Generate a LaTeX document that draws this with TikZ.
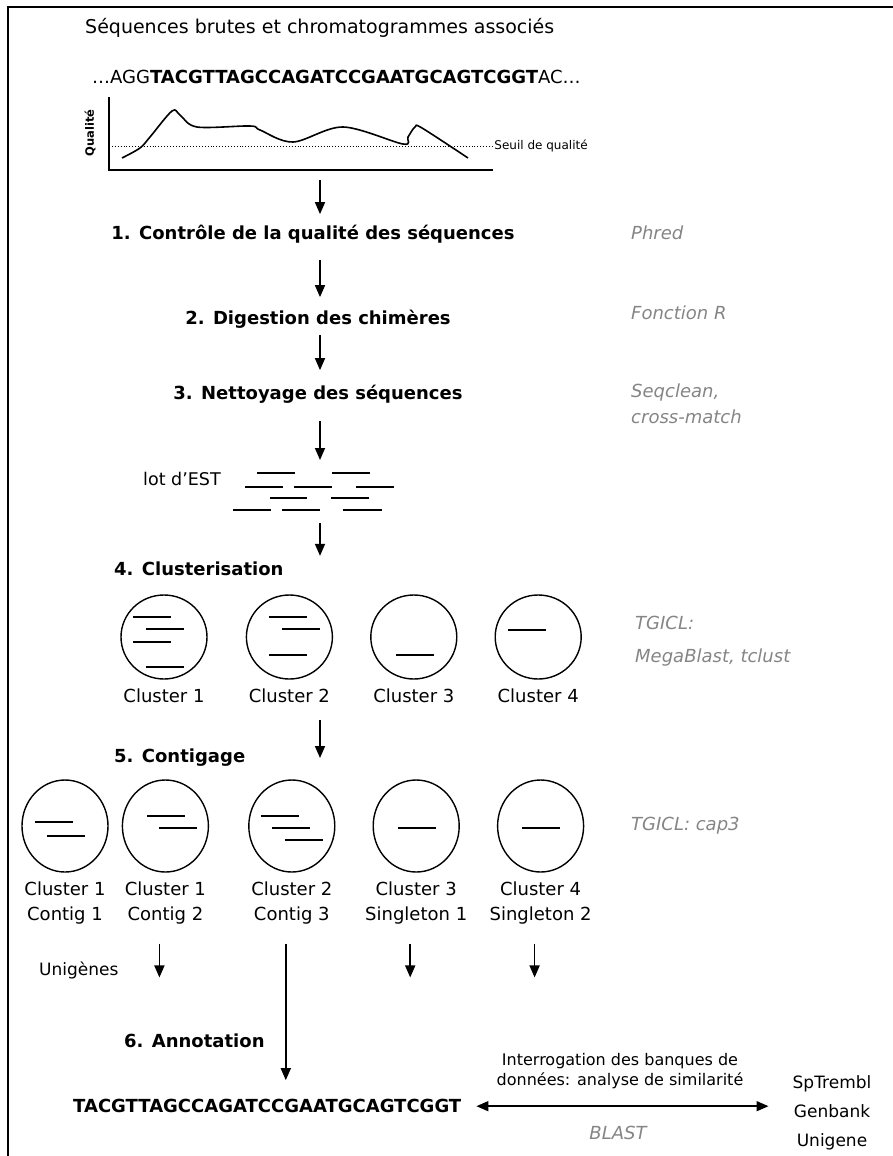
\documentclass[tikz,border=0pt]{standalone}
\usepackage{fontspec}
\setmainfont{DejaVu Sans}
\usetikzlibrary{arrows.meta,positioning,calc,shapes.geometric}
\definecolor{ink}{HTML}{000000}
\definecolor{toolgray}{HTML}{858585}
\tikzset{
  title/.style={font=\fontsize{19}{22}\selectfont, inner sep=0pt, anchor=mid west},
  steptxt/.style={font=\bfseries\fontsize{18}{22}\selectfont, inner sep=0pt, anchor=mid},
  tooltxt/.style={font=\itshape\fontsize{18}{26}\selectfont, text=toolgray, inner sep=0pt, align=left},
  lbl/.style={font=\fontsize{18}{25}\selectfont, inner sep=0pt, align=center},
  seqtxt/.style={font=\fontsize{18}{22}\selectfont, inner sep=0pt, anchor=mid west},
  clu/.style={draw=ink, ellipse, line width=1.4pt, inner sep=0pt, minimum width=86pt, minimum height=84pt},
  contig/.style={clu, minimum height=92pt},
  read/.style={line width=1.5pt, draw=ink},
  arr/.style={-{Triangle[length=12pt,width=10pt]}, line width=1.6pt, draw=ink},
  dblarr/.style={{Triangle[length=12pt,width=10pt]}-{Triangle[length=12pt,width=10pt]}, line width=1.6pt, draw=ink}
}

\begin{document}
\begin{tikzpicture}[x=1pt, y=-1pt]
\useasboundingbox (0,0) rectangle (892,1156);
% cadre
\draw[line width=2pt] (8,1160) -- (8,7) -- (896,7);

% sequences brutes
\node[title] (ttl) at (85,31) {Séquences brutes et chromatogrammes associés};
\node[seqtxt] (raw) at (92,81) {…AGG\textbf{TACGTTAGCCAGATCCGAATGCAGTCGGT}AC…};

% chromatogramme
\coordinate (orig) at (109,170);
\draw[line width=2pt] (109,97) -- (orig) -- (493,170);
\draw[line width=0.9pt, dotted] (109,146) -- (493,146) node[right, inner sep=1pt, font=\fontsize{12}{14}\selectfont] (seuil) {Seuil de qualité};
\draw[line width=1.6pt] plot[smooth, tension=0.55] coordinates {(122,158) (140,148) (150,137) (172,111) (180,115) (197,127) (250,126) (260,130) (293,142) (343,127) (403,144) (408,137) (415,127) (422,128) (468,158)};
\node[rotate=90, font=\bfseries\fontsize{11.5}{14}\selectfont, inner sep=0pt] (qual) at (90,133) {Qualité};

% etapes 1 a 3
\coordinate (spine) at (320,0);
\node[steptxt] (s1) at (313,237) {1. Contrôle de la qualité des séquences};
\node[tooltxt, anchor=mid west] (t1) at (631,237) {Phred};
\node[steptxt] (s2) at (318,322) {2. Digestion des chimères};
\node[tooltxt, anchor=mid west] (t2) at (631,317) {Fonction R};
\node[steptxt] (s3) at (318,397) {3. Nettoyage des séquences};
\node[tooltxt, anchor=north west] (t3) at (631,384) {Seqclean,\\cross-match};
\draw[arr, shorten <=10pt, shorten >=11pt] (orig -| spine) -- (spine |- s1.north);
\draw[arr, shorten <=16pt, shorten >=13pt] (spine |- s1.south) -- (spine |- s2.north);
\draw[arr, shorten <=6pt, shorten >=15pt] (spine |- s2.south) -- (spine |- s3.north);

% lot d'EST
\node[lbl, anchor=mid west, font=\fontsize{17.5}{20}\selectfont] (lot) at (143,483) {lot d’EST};
\coordinate (estn) at (320,473);
\coordinate (ests) at (320,510);
\foreach \xa/\xb/\yy in {257/295/473, 332/370/473, 245/283/487, 294/332/487, 356/394/487, 270/307/498, 331/369/498, 233/271/510, 282/320/510, 343/382/510}
  \draw[read] (\xa,\yy) -- (\xb,\yy);
\draw[arr, shorten <=17pt, shorten >=13pt] (spine |- s3.south) -- (estn);

% 4. clusterisation
\node[steptxt, anchor=mid west] (s4) at (114,573) {4. Clusterisation};
\draw[arr, shorten <=13pt, shorten >=6pt] (ests) -- (spine |- s4.north);
\node[clu] (c1) at (164,637) {};
\node[clu, right=38pt of c1] (c2) {};
\node[clu, right=37pt of c2] (c3) {};
\node[clu, right=37pt of c3] (c4) {};
\foreach \n/\dx/\dy in {c1/-31/-20, c1/-18/-8, c1/-31/5, c1/-18/30, c2/-20/-20, c2/-7/-8, c2/-20/18, c3/-18/18, c4/-30/-7}
  \draw[read] ($(\n)+(\dx,\dy)$) -- ++(38,0);
\foreach \n/\i in {c1/1, c2/2, c3/3, c4/4}
  \node[lbl, below=9pt of \n] (l\n) {Cluster \i};
\node[tooltxt, anchor=north west, font=\itshape\fontsize{18}{33}\selectfont] (t4) at (635,616) {TGICL:\\MegaBlast, tclust};

% 5. contigage
\node[steptxt, anchor=mid west] (s5) at (114,760) {5. Contigage};
\draw[arr, shorten <=17pt, shorten >=2pt] (spine |- lc2.south) -- (spine |- s5.mid);
\node[contig] (k1) at (65,826) {};
\node[contig, right=13pt of k1] (k2) {};
\node[contig, right=39pt of k2] (k3) {};
\node[contig, right=37pt of k3] (k4) {};
\node[contig, right=37pt of k4] (k5) {};
\foreach \n/\dx/\dy in {k1/-30/-4, k1/-18/10, k2/-18/-10, k2/-6/2, k3/-31/-10, k3/-20/2, k3/-7/14, k4/-18/2, k5/-19/2}
  \draw[read] ($(\n)+(\dx,\dy)$) -- ++(38,0);
\node[lbl, below=9pt of k1] (lk1) {Cluster 1\\Contig 1};
\node[lbl, below=9pt of k2] (lk2) {Cluster 1\\Contig 2};
\node[lbl, below=9pt of k3] (lk3) {Cluster 2\\Contig 3};
\node[lbl, below=9pt of k4] (lk4) {Cluster 3\\Singleton 1};
\node[lbl, below=9pt of k5] (lk5) {Cluster 4\\Singleton 2};
\node[tooltxt, anchor=mid west] (t5) at (631,828) {TGICL: cap3};

% unigenes et 6. annotation
\node[lbl, anchor=mid west, font=\fontsize{17}{20}\selectfont] (uni) at (39,973) {Unigènes};
\node[steptxt, anchor=mid west] (s6) at (124,1045) {6. Annotation};
\node[seqtxt, font=\bfseries\fontsize{18}{22}\selectfont] (fin) at (73,1110) {TACGTTAGCCAGATCCGAATGCAGTCGGT};
\foreach \k/\d in {lk2/d1, lk3/d2, lk4/d3, lk5/d4}
  \coordinate (\d) at ($(\k.south)+(-6,0)$);
\draw[arr, shorten <=19pt, shorten >=2pt] (d1) -- (d1 |- uni.south);
\draw[arr, shorten <=19pt, shorten >=19pt] (d2) -- (d2 |- fin.north);
\draw[arr, shorten <=19pt, shorten >=2pt] (d3) -- (d3 |- uni.south);
\draw[arr, shorten <=19pt, shorten >=2pt] (d4) -- (d4 |- uni.south);

\node[lbl, font=\fontsize{17}{29}\selectfont] (dbs) at (832,1113) {SpTrembl\\Genbank\\Unigene};
\draw[dblarr, shorten <=15pt, shorten >=24pt] (fin.east) -- (fin.east -| dbs.west);
\node[lbl, font=\fontsize{16}{20}\selectfont] (inter) at (620,1071) {Interrogation des banques de\\données: analyse de similarité};
\node[tooltxt, anchor=mid] (blast) at (618,1137) {BLAST};
\end{tikzpicture}
\end{document}
